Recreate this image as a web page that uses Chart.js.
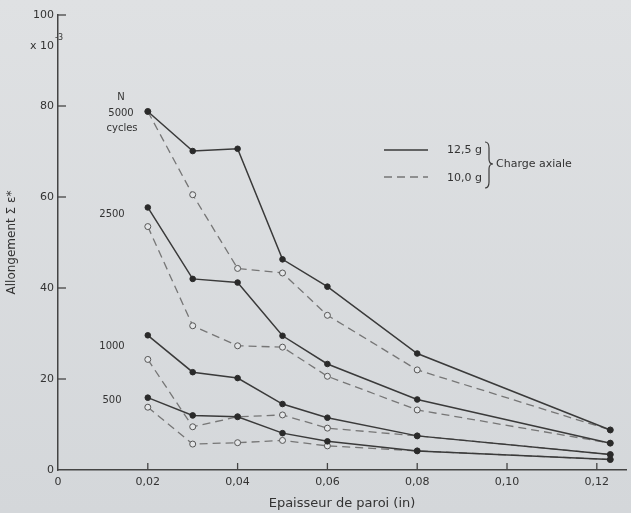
<!DOCTYPE html>
<html>
<head>
<meta charset="utf-8">
<script src="https://cdn.jsdelivr.net/npm/chart.js@4.4.1/dist/chart.umd.min.js"></script>
<style>
  html, body { margin: 0; padding: 0; }
  body { width: 631px; height: 513px; background: linear-gradient(#dfe1e3, #d4d7da); }
  canvas { display: block; }
</style>
</head>
<body>
<canvas id="chart" width="631" height="513"></canvas>
<script>
// thickness (in) and elongation (x 10^-3)
const thickness = [0.02, 0.03, 0.04, 0.05, 0.06, 0.08, 0.123];
const xTicks = [0, 0.02, 0.04, 0.06, 0.08, 0.10, 0.12];
const yTicks = [0, 20, 40, 60, 80, 100];

// 12,5 g (solid) and 10,0 g (dashed), per number of cycles
const n5000_125 = [78.8, 70.1, 70.6, 46.3, 40.3, 25.6, 8.8];
const n5000_100 = [78.8, 60.5, 44.3, 43.3, 34.0, 22.0, 8.8];
const n2500_125 = [57.7, 42.0, 41.2, 29.5, 23.3, 15.5, 5.9];
const n2500_100 = [53.5, 31.7, 27.3, 27.0, 20.6, 13.2, 5.9];
const n1000_125 = [29.6, 21.5, 20.2, 14.5, 11.5, 7.5, 3.4];
const n1000_100 = [24.3, 9.5, 11.7, 12.1, 9.2, 7.5, 3.4];
const n500_125 = [15.9, 12.0, 11.7, 8.1, 6.3, 4.2, 2.3];
const n500_100 = [13.8, 5.7, 6.0, 6.5, 5.3, 4.2, 2.3];

const INK = "#333";
const DASH = "#767676";
const FONT = "'DejaVu Sans', sans-serif";

function series(values, solid) {
    return {
        data: values.map((v, i) => ({ x: thickness[i], y: v })),
        borderColor: solid ? "#3a3a3a" : DASH,
        borderWidth: solid ? 1.5 : 1.3,
        borderDash: solid ? [] : [8, 5],
        pointRadius: solid ? 2.8 : 3,
        pointBorderWidth: 1,
        pointBackgroundColor: solid ? "#2a2a2a" : "#e4e6e8",
        pointBorderColor: solid ? "#2a2a2a" : "#555",
        tension: 0,
        order: solid ? 0 : 1
    };
}

/*TICKS, LABELS, LEGEND*/
const extras = {
    id: "extras",
    afterDraw(chart) {
        const { ctx, chartArea: a, scales: { x, y } } = chart;
        ctx.save();
        ctx.strokeStyle = "#444";
        ctx.lineWidth = 1.3;
        yTicks.slice(1).forEach(v => {
            const py = y.getPixelForValue(v);
            ctx.beginPath(); ctx.moveTo(a.left, py); ctx.lineTo(a.left + 8, py); ctx.stroke();
        });
        xTicks.slice(1).forEach(v => {
            const px = x.getPixelForValue(v);
            ctx.beginPath(); ctx.moveTo(px, a.bottom); ctx.lineTo(px, a.bottom - 7); ctx.stroke();
        });

        ctx.fillStyle = INK;
        ctx.textBaseline = "middle";
        ctx.font = "11px " + FONT;
        ctx.textAlign = "right";
        ctx.fillText("x 10", 54, 46);
        ctx.font = "8px " + FONT;
        ctx.textAlign = "left";
        ctx.fillText("-3", 55, 38);

        ctx.font = "10px " + FONT;
        ctx.textAlign = "center";
        ctx.fillText("N", 121, 97);
        ctx.fillText("5000", 121, 113);
        ctx.fillText("cycles", 122, 128);
        ctx.fillText("2500", 112, 214);
        ctx.fillText("1000", 112, 346);
        ctx.fillText("500", 112, 400);

        // legend
        ctx.lineWidth = 1.5;
        ctx.strokeStyle = "#3a3a3a";
        ctx.beginPath(); ctx.moveTo(384, 150); ctx.lineTo(428, 150); ctx.stroke();
        ctx.lineWidth = 1.3;
        ctx.strokeStyle = DASH;
        ctx.setLineDash([8, 5]);
        ctx.beginPath(); ctx.moveTo(384, 177); ctx.lineTo(428, 177); ctx.stroke();
        ctx.setLineDash([]);
        ctx.font = "11px " + FONT;
        ctx.textAlign = "left";
        ctx.fillText("12,5 g", 447, 150);
        ctx.fillText("10,0 g", 447, 178);
        ctx.fillText("Charge axiale", 496, 164);

        // brace
        const bx = 485, top = 142, mid = 164, bot = 188;
        ctx.strokeStyle = "#3a3a3a";
        ctx.lineWidth = 1.2;
        ctx.beginPath();
        ctx.moveTo(bx, top);
        ctx.quadraticCurveTo(bx + 4, top, bx + 4, top + 6);
        ctx.lineTo(bx + 4, mid - 5);
        ctx.quadraticCurveTo(bx + 4, mid, bx + 8, mid);
        ctx.quadraticCurveTo(bx + 4, mid, bx + 4, mid + 5);
        ctx.lineTo(bx + 4, bot - 6);
        ctx.quadraticCurveTo(bx + 4, bot, bx, bot);
        ctx.stroke();
        ctx.restore();
    }
};

new Chart(document.getElementById("chart"), {
    type: "line",
    data: {
        datasets: [
            series(n5000_125, true), series(n5000_100, false),
            series(n2500_125, true), series(n2500_100, false),
            series(n1000_125, true), series(n1000_100, false),
            series(n500_125, true), series(n500_100, false)
        ]
    },
    options: {
        responsive: false,
        animation: false,
        layout: { padding: { top: 15, right: 0, left: 0, bottom: 0 } },
        plugins: { legend: { display: false }, tooltip: { enabled: false } },
        scales: {
            x: {
                type: "linear",
                min: 0,
                max: 0.1265,
                afterBuildTicks: s => { s.ticks = xTicks.map(v => ({ value: v })); },
                afterFit: s => { s.height = 43; },
                grid: { display: false, drawTicks: false },
                border: { display: true, color: "#444", width: 1.5 },
                ticks: {
                    color: INK,
                    font: { family: FONT, size: 11 },
                    padding: 6,
                    maxRotation: 0,
                    callback: v => v === 0 ? "0" : v.toFixed(2).replace(".", ",")
                },
                title: {
                    display: true,
                    text: "Epaisseur de paroi (in)",
                    color: INK,
                    font: { family: FONT, size: 13 },
                    padding: { top: 2, bottom: 2 }
                }
            },
            y: {
                min: 0,
                max: 100,
                afterBuildTicks: s => { s.ticks = yTicks.map(v => ({ value: v })); },
                afterFit: s => { s.width = 58; },
                grid: { display: false, drawTicks: false },
                border: { display: true, color: "#444", width: 1.5 },
                ticks: { color: INK, font: { family: FONT, size: 11 }, padding: 4 },
                title: {
                    display: true,
                    text: "Allongement Σ ε*",
                    color: INK,
                    font: { family: FONT, size: 12 },
                    padding: { top: 5, bottom: 0 }
                }
            }
        }
    },
    plugins: [extras]
});
</script>
</body>
</html>
